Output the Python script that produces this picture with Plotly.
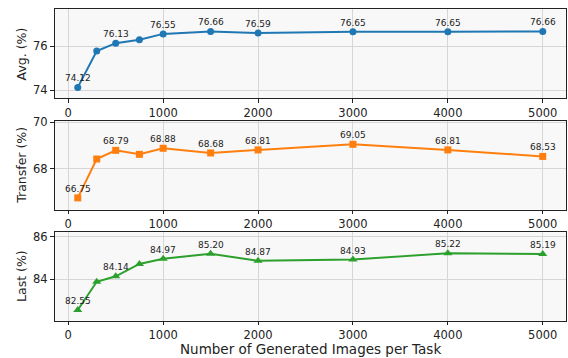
import plotly.graph_objects as go

x_vals = [100, 300, 500, 750, 1000, 1500, 2000, 3000, 4000, 5000]
avg_vals = [74.12, 75.77, 76.13, 76.28, 76.55, 76.66, 76.59, 76.65, 76.65, 76.66]
transfer_vals = [66.75, 68.42, 68.79, 68.62, 68.88, 68.68, 68.81, 69.05, 68.81, 68.53]
last_vals = [82.55, 83.88, 84.14, 84.72, 84.97, 85.20, 84.87, 84.93, 85.22, 85.19]
labeled_idx = [0, 2, 4, 5, 6, 7, 8, 9]
y_titles = ["Avg. (%)", "Transfer (%)", "Last (%)"]
x_title = "Number of Generated Images per Task"
x_ticks = [0, 1000, 2000, 3000, 4000, 5000]

W, H = 568, 358
series = [avg_vals, transfer_vals, last_vals]
colors = ["#1f77b4", "#ff7f0e", "#2ca02c"]
symbols = ["circle", "square", "triangle-up"]
msizes = [7, 7, 8]
# pixel extents (top, bottom) of each panel
panels_px = [(3.5, 94), (117, 207), (230, 320)]
x_left, x_right = 54.5, 566

fig = go.Figure()
font = "DejaVu Sans"

for i, (vals, col, sym, ms, (pt, pb)) in enumerate(zip(series, colors, symbols, msizes, panels_px)):
    ax = "" if i == 0 else str(i + 1)
    fig.add_trace(go.Scatter(
        x=x_vals, y=vals, mode="lines+markers",
        line=dict(color=col, width=2),
        marker=dict(symbol=sym, size=ms, color=col),
        xaxis="x" + ax, yaxis="y" + ax, showlegend=False, cliponaxis=False,
        hoverinfo="skip"))
    ymin, ymax = min(vals) - 0.5, max(vals) + 1.0
    fig.update_layout(**{
        "xaxis" + ax: dict(
            domain=[x_left / W, x_right / W], anchor="y" + ax,
            range=[-145, 5245], tickvals=x_ticks,
            showgrid=True, gridcolor="#d6d6d6", gridwidth=1,
            showline=True, linecolor="#222", linewidth=1, mirror=True,
            ticks="outside", ticklen=3.5, tickcolor="#222",
            tickfont=dict(size=11.5, color="#222", family=font), zeroline=False),
        "yaxis" + ax: dict(
            domain=[1 - pb / H, 1 - pt / H], anchor="x" + ax,
            range=[ymin, ymax], dtick=2,
            showgrid=True, gridcolor="#d6d6d6", gridwidth=1,
            showline=True, linecolor="#222", linewidth=1, mirror=True,
            ticks="outside", ticklen=3.5, tickcolor="#222",
            tickfont=dict(size=11.5, color="#222", family=font), zeroline=False),
    })
    for j in labeled_idx:
        fig.add_annotation(x=x_vals[j], y=vals[j], xref="x" + ax, yref="y" + ax,
                           text=f"{vals[j]:.2f}", showarrow=False,
                           yanchor="middle", yshift=9,
                           font=dict(size=9, color="#222", family=font))
    fig.add_annotation(x=21.5 / W, y=1 - (pt + pb) / 2 / H, xref="paper", yref="paper",
                       text=y_titles[i], showarrow=False, textangle=-90,
                       xanchor="center", yanchor="middle",
                       font=dict(size=12.5, color="#222", family=font))

fig.add_annotation(x=(x_left + x_right) / 2 / W, y=1 - 348.5 / H, xref="paper", yref="paper",
                   text=x_title, showarrow=False, xanchor="center", yanchor="middle",
                   font=dict(size=13.5, color="#222", family=font))

fig.update_layout(width=W, height=H, margin=dict(l=0, r=0, t=0, b=0),
                  paper_bgcolor="white", plot_bgcolor="#f8f8f8",
                  font=dict(family=font))

fig.write_html("out.html", config={"displayModeBar": False, "staticPlot": True},
               post_script="document.body.style.margin='0';document.body.style.padding='0';")
